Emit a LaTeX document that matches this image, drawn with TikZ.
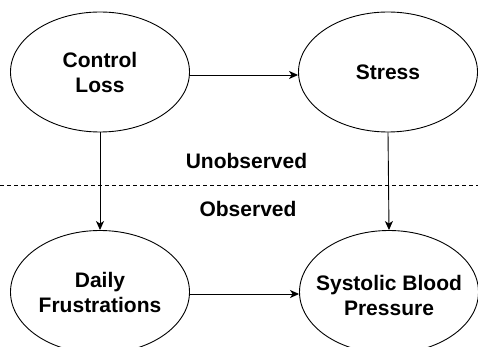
\documentclass[tikz,border=0pt]{standalone}
\usepackage{fontspec}
\setmainfont{Liberation Sans}
\usetikzlibrary{shapes.geometric,arrows.meta}
\begin{document}
\begin{tikzpicture}[x=1pt,y=-1pt,
  latent/.style={ellipse,draw=black,line width=0.9pt,inner sep=0pt,
    minimum width=179pt,minimum height=120pt},
  manifest/.style={latent,minimum height=123pt},
  lbl/.style={align=center,font=\bfseries\fontsize{21}{25}\selectfont,inner sep=0pt},
  region/.style={font=\bfseries\fontsize{21}{25}\selectfont,inner sep=0pt,anchor=base},
  arr/.style={-{Stealth[length=9pt,width=8pt,inset=2.5pt]},line width=0.9pt},
  divider/.style={dashed,dash pattern=on 4pt off 3pt,line width=0.8pt}]
  \useasboundingbox (0,0) rectangle (478,347);
  \clip (0,0) rectangle (478,347);

  % latent variables
  \node[latent] (cl) at (100,72) {};
  \node[lbl] (cltext) at (cl) {Control\\Loss};
  \node[latent] (st) at (388,72) {};
  \node[lbl] (sttext) at (st) {Stress};

  % observed variables
  \node[manifest] (df) at (100,292) {};
  \node[lbl] (dftext) at (df) {Daily\\Frustrations};
  \node[manifest] (sbp) at (389,292) {};
  \node[lbl] (sbptext) at ([yshift=-3pt]sbp.center) {Systolic Blood\\Pressure};

  % boundary between unobserved and observed
  \coordinate (divL) at (0,185);
  \coordinate (divR) at (478,185);
  \draw[divider] (divL) -- (divR);
  \node[region] (unobs) at (246.5,168) {Unobserved};
  \node[region] (obs) at (248,216) {Observed};

  % paths
  \draw[arr] ([yshift=-3pt]cl.east) -- ([yshift=-3pt]st.west);
  \draw[arr] (cl.south) -- (df.north);
  \draw[arr] (st.south) -- (sbp.north);
  \draw[arr] ([yshift=-2pt]df.east) -- ([yshift=-2pt]sbp.west);
\end{tikzpicture}
\end{document}
